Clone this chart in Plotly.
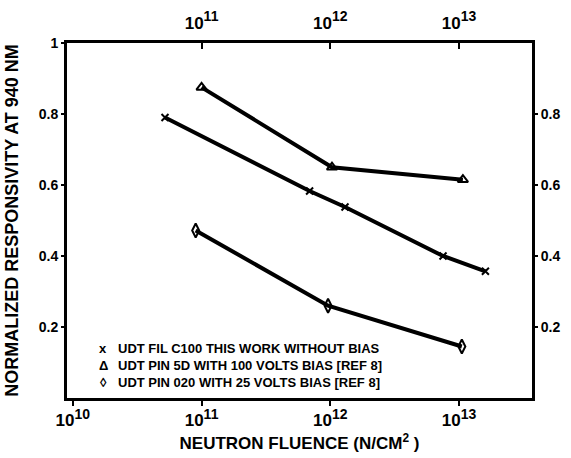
import plotly.graph_objects as go

# Data
x_fil = [5.2e10, 6.9e11, 1.3e12, 7.5e12, 1.6e13]
y_fil = [0.79, 0.583, 0.538, 0.40, 0.357]

x_pin5d = [1.0e11, 1.03e12, 1.07e13]
y_pin5d = [0.875, 0.65, 0.615]

x_pin020 = [9.0e10, 9.6e11, 1.05e13]
y_pin020 = [0.472, 0.26, 0.145]

names = ["UDT FIL C100 THIS WORK WITHOUT BIAS",
         "UDT PIN 5D WITH 100 VOLTS BIAS [REF 8]",
         "UDT PIN 020 WITH 25 VOLTS BIAS [REF 8]"]
legend_symbols = ["x", "Δ", "◊"]

SUP = "<sup><span style='font-size:14px'>{}</span></sup>"
xtick_vals = [1e10, 1e11, 1e12, 1e13]
xtick_text = ["10" + SUP.format(e) for e in ["10", "11", "12", "13"]]
top_tick_vals = [1e11, 1e12, 1e13]
top_tick_text = ["10" + SUP.format(e) for e in ["11", "12", "13"]]
ytick_vals = [0.2, 0.4, 0.6, 0.8, 1.0]
ytick_text = ["0.2", "0.4", "0.6", "0.8", "1"]
ytick_vals_right = [0.2, 0.4, 0.6, 0.8]
ytick_text_right = ["0.2", "0.4", "0.6", "0.8"]

FONT = "Liberation Sans"
ytickfont = dict(family=FONT, size=14, color="black", weight="bold")
xtickfont = dict(family=FONT, size=17, color="black", weight="bold")

fig = go.Figure()

series = [(x_fil, y_fil, "x-thin-open", 7),
          (x_pin5d, y_pin5d, "triangle-up-open", 9),
          (x_pin020, y_pin020, "diamond-tall-open", 10)]

for (xs, ys, sym, sz), nm in zip(series, names):
    fig.add_trace(go.Scatter(x=xs, y=ys, mode="lines", showlegend=False,
                             line=dict(color="black", width=4)))
for (xs, ys, sym, sz), nm in zip(series, names):
    fig.add_trace(go.Scatter(x=xs, y=ys, mode="markers", name=nm, showlegend=False,
                             marker=dict(symbol=sym, size=sz, color="black",
                                         line=dict(color="black", width=2))))

# dummy trace to activate the top and right axes
fig.add_trace(go.Scatter(x=[x_fil[0]], y=[y_fil[0]], xaxis="x2", yaxis="y2",
                         mode="markers", marker=dict(opacity=0), showlegend=False,
                         hoverinfo="skip"))

xr = [9.955, 13.566]
L, R, T, B = 67, 39, 43, 60
W, H = 571, 458
pw = W - L - R
ph = H - T - B

# legend drawn as text rows inside the plot (pixel positions -> domain fractions)
leg_rows_px = [348, 365, 382]
for sym, nm, ypx in zip(legend_symbols, names, leg_rows_px):
    yy = (H - B - ypx) / ph
    fig.add_annotation(x=(103 - L) / pw, y=yy, xref="x domain", yref="y domain",
                       text=sym, showarrow=False, xanchor="center", yanchor="middle",
                       font=dict(family=FONT, size=13, color="black", weight="bold"))
    fig.add_annotation(x=(116 - L) / pw, y=yy, xref="x domain", yref="y domain",
                       text=nm, showarrow=False, xanchor="left", yanchor="middle",
                       font=dict(family=FONT, size=13, color="black", weight="bold"))

fig.update_layout(
    width=W, height=H,
    margin=dict(l=L, r=R, t=T, b=B, autoexpand=False),
    paper_bgcolor="white", plot_bgcolor="white",
    font=dict(family=FONT, color="black"),
    showlegend=False,
    xaxis=dict(type="log", range=xr, tickvals=xtick_vals, ticktext=xtick_text,
               tickfont=xtickfont, automargin=False,
               showgrid=False, zeroline=False, showline=True, linewidth=3,
               linecolor="black", mirror=True, ticks="outside", ticklen=5,
               tickwidth=2, tickcolor="black",
               title=dict(text="NEUTRON FLUENCE (N/CM<sup>2</sup> )",
                          font=dict(family=FONT, size=17, color="black", weight="bold"),
                          standoff=8)),
    xaxis2=dict(type="log", range=xr, overlaying="x", side="top",
                tickvals=top_tick_vals, ticktext=top_tick_text, automargin=False,
                tickfont=xtickfont, ticklabelstandoff=10,
                showgrid=False, zeroline=False, showline=False,
                ticks="inside", ticklen=6, tickwidth=2, tickcolor="black"),
    yaxis=dict(range=[0, 1], tickvals=ytick_vals, ticktext=ytick_text,
               tickfont=ytickfont, automargin=False,
               showgrid=False, zeroline=False, showline=True,
               linewidth=3, linecolor="black", mirror=True, ticks="outside",
               ticklen=3, tickwidth=2, tickcolor="black",
               title=dict(text="NORMALIZED RESPONSIVITY AT 940 NM",
                          font=dict(family=FONT, size=18, color="black", weight="bold"),
                          standoff=16)),
    yaxis2=dict(range=[0, 1], overlaying="y", side="right",
                tickvals=ytick_vals_right, ticktext=ytick_text_right,
                tickfont=ytickfont, automargin=False,
                showgrid=False, zeroline=False, showline=False,
                ticks="outside", ticklen=5, tickwidth=2, tickcolor="black"),
)

fig.write_html("out.html", config={"displayModeBar": False},
               post_script="document.body.style.margin='0';document.body.style.padding='0';")
